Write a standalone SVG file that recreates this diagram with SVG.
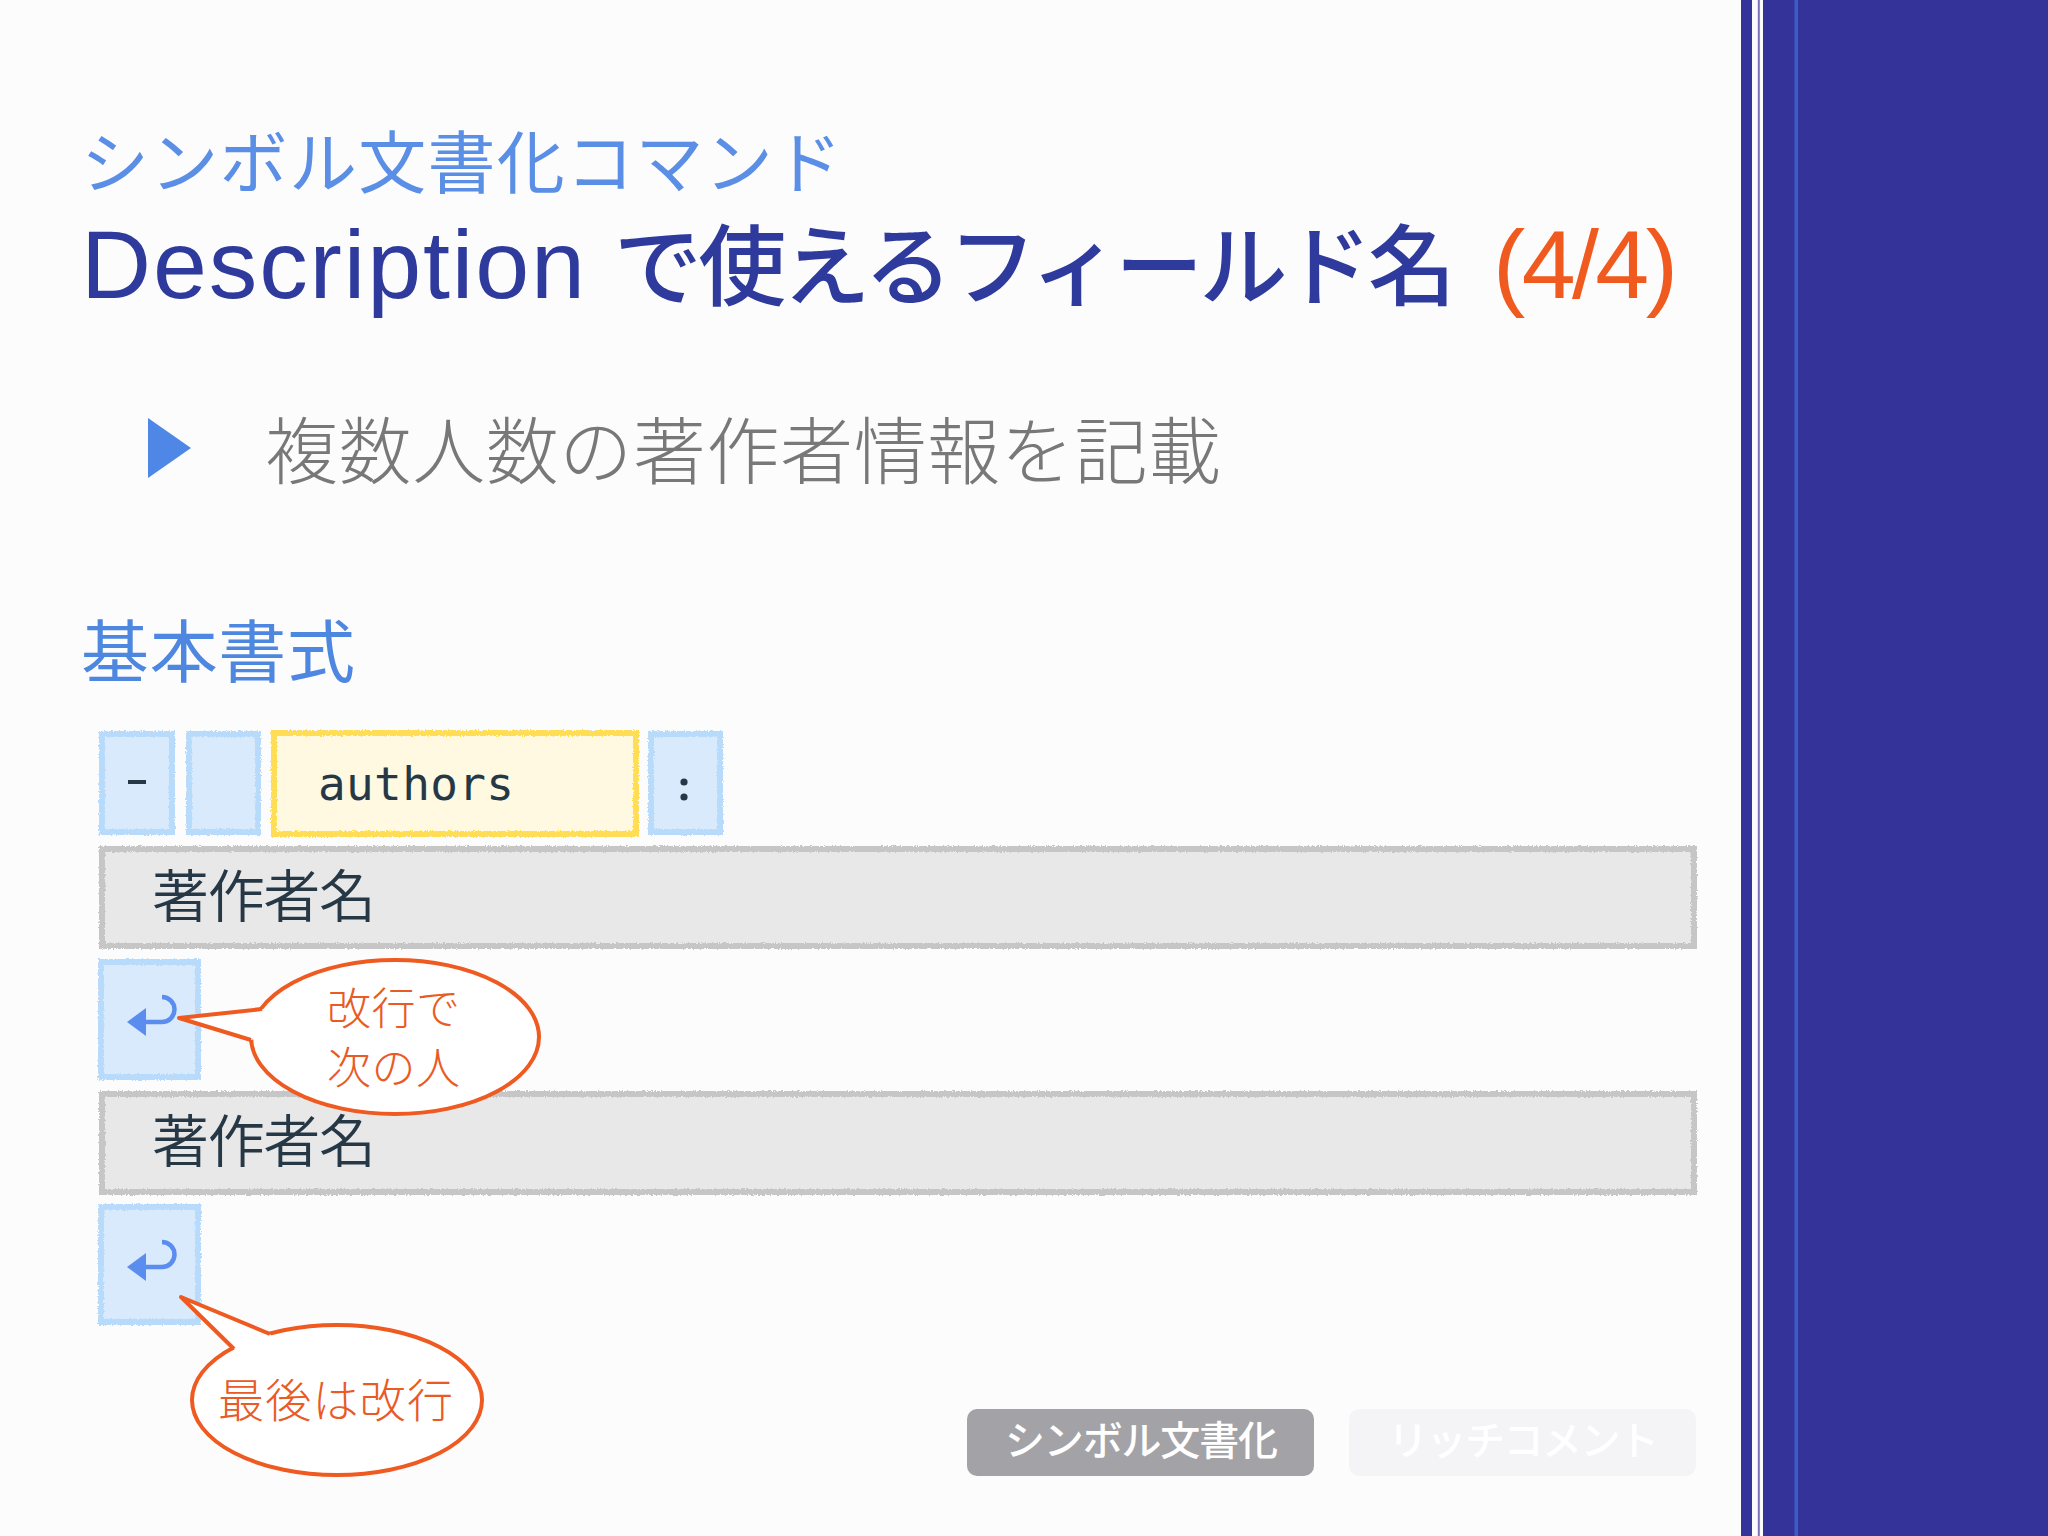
<svg xmlns="http://www.w3.org/2000/svg" width="2048" height="1536" viewBox="0 0 2048 1536">
<style>
.jp{font-family:"Noto Sans CJK JP","Liberation Sans",sans-serif}
.lat{font-family:"Liberation Sans","Noto Sans CJK JP",sans-serif}
.mono{font-family:"DejaVu Sans Mono","Liberation Mono",monospace}
.bfill{fill:#DAEAFD}
.bstroke{fill:none;stroke:#B8DBFB;stroke-width:6}
.yfill{fill:#FFF9E2}
.ystroke{fill:none;stroke:#FFDD55;stroke-width:6}
.gfill{fill:#E8E8E9}
.gstroke{fill:none;stroke:#C6C6C6;stroke-width:6}
.dark{fill:#263846}
.co{fill:none;stroke:#EE5A20;stroke-width:4;stroke-linejoin:round}
.cot{fill:#EA5A25;font-weight:300}
</style>
<defs>
<filter id="rough" x="-5%" y="-5%" width="110%" height="110%">
<feTurbulence type="fractalNoise" baseFrequency="0.6" numOctaves="2" seed="3" result="n"/>
<feDisplacementMap in="SourceGraphic" in2="n" scale="3.5" xChannelSelector="R" yChannelSelector="G"/>
</filter>
<g id="ret">
<path d="M162 1242 A12.5 12.5 0 0 1 162 1267 H142" fill="none" stroke="#5B8DEF" stroke-width="4.5"/>
<polygon points="127,1267 146,1253 146,1281" fill="#5B8DEF"/>
</g>
</defs>
<rect width="2048" height="1536" fill="#FDFCFD"/>

<g id="sidebar">
<rect x="1741" y="0" width="307" height="1536" fill="#333399"/>
<rect x="1752" y="0" width="11" height="1536" fill="#FDFCFD"/>
<rect x="1757.8" y="0" width="2" height="1536" fill="#7B72B9"/>
<rect x="1794.5" y="0" width="3.5" height="1536" fill="#3E5CC6"/>
</g>

<g id="header">
<text class="jp" x="81" y="188" font-size="68" fill="#5B8FE6" textLength="761">シンボル文書化コマンド</text>
<text y="298" fill="#2E3A9C"><tspan class="lat" x="81" font-size="97" textLength="504">Description</tspan><tspan class="jp" x="614" font-size="88" font-weight="500" textLength="842">で使えるフィールド名</tspan><tspan class="lat" x="1493" font-size="97" fill="#F05A1E" textLength="185">(4/4)</tspan></text>
</g>

<g id="bullet">
<polygon points="148,418 191,448 148,478" fill="#4E87E6"/>
<text class="jp" x="265" y="478" font-size="73" font-weight="300" fill="#787878" textLength="956">複数人数の著作者情報を記載</text>
</g>

<text id="heading" class="jp" x="81" y="677" font-size="68" fill="#4E87E0" textLength="274">基本書式</text>

<g id="box-dash">
<rect class="bfill" x="102" y="734" width="70" height="98"/>
<rect class="bstroke" x="102" y="734" width="70" height="98" filter="url(#rough)"/>
<rect x="128" y="780" width="18" height="4" fill="#263846"/>
</g>
<g id="box-space">
<rect class="bfill" x="189" y="734" width="69" height="98"/>
<rect class="bstroke" x="189" y="734" width="69" height="98" filter="url(#rough)"/>
</g>
<g id="box-authors">
<rect class="yfill" x="274" y="733" width="362" height="101"/>
<rect class="ystroke" x="274" y="733" width="362" height="101" filter="url(#rough)"/>
<text class="mono dark" x="318" y="800" font-size="46" textLength="196">authors</text>
</g>
<g id="box-colon">
<rect class="bfill" x="651" y="734" width="69" height="98"/>
<rect class="bstroke" x="651" y="734" width="69" height="98" filter="url(#rough)"/>
<circle cx="684" cy="782" r="3.6" fill="#263846"/>
<circle cx="684" cy="797" r="3.6" fill="#263846"/>
</g>

<g id="bar1">
<rect class="gfill" x="102" y="849" width="1592" height="97"/>
<rect class="gstroke" x="102" y="849" width="1592" height="97" filter="url(#rough)"/>
<text class="jp dark" x="152" y="917" font-size="57" font-weight="350" textLength="224">著作者名</text>
</g>

<g id="ret1">
<rect class="bfill" x="101" y="962" width="97" height="115"/>
<rect class="bstroke" x="101" y="962" width="97" height="115" filter="url(#rough)"/>
<use href="#ret" transform="translate(0,-245)"/>
</g>

<g id="bar2">
<rect class="gfill" x="102" y="1094" width="1592" height="98"/>
<rect class="gstroke" x="102" y="1094" width="1592" height="98" filter="url(#rough)"/>
<text class="jp dark" x="152" y="1162" font-size="57" font-weight="350" textLength="224">著作者名</text>
</g>

<g id="ret2">
<rect class="bfill" x="101" y="1207" width="97" height="115"/>
<rect class="bstroke" x="101" y="1207" width="97" height="115" filter="url(#rough)"/>
<use href="#ret"/>
</g>

<g id="callout1">
<ellipse cx="395" cy="1037" rx="144" ry="77" fill="#FFFFFF" stroke="#EE5A20" stroke-width="4"/>
<polygon points="275,1018 262,1009 179,1018 251,1040 265,1036" fill="#FFFFFF"/>
<polyline class="co" points="262,1009 179,1018 251,1040"/>
<text class="jp cot" x="327" y="1025" font-size="44" textLength="133">改行で</text>
<text class="jp cot" x="327" y="1084" font-size="44" textLength="133">次の人</text>
</g>

<g id="callout2">
<ellipse cx="337" cy="1400" rx="145" ry="75" fill="#FFFFFF" stroke="#EE5A20" stroke-width="4"/>
<polygon points="278,1346 270,1334 181,1297 234,1349 246,1356" fill="#FFFFFF"/>
<polyline class="co" points="270,1334 181,1297 234,1349"/>
<text class="jp cot" x="218" y="1417" font-size="46" textLength="235">最後は改行</text>
</g>

<g id="tab-symbol">
<rect x="967" y="1409" width="347" height="67" rx="10" fill="#A3A2A6"/>
<text class="jp" x="1005" y="1455" font-size="40" font-weight="500" fill="#FFFFFF" textLength="273">シンボル文書化</text>
</g>
<g id="tab-rich">
<rect x="1349" y="1409" width="347" height="67" rx="10" fill="#F4F3F6"/>
<text class="jp" x="1388" y="1455" font-size="40" font-weight="500" fill="#FFFFFF" textLength="271">リッチコメント</text>
</g>
</svg>
